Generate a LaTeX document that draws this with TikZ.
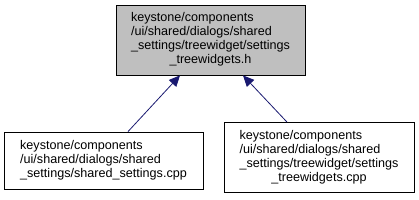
\documentclass[tikz,border=0pt]{standalone}
\usepackage{fontspec}
\setmainfont{Liberation Sans}
\usetikzlibrary{arrows.meta,calc}
\definecolor{edgeblue}{HTML}{191970}
\definecolor{boxgray}{HTML}{BFBFBF}
\begin{document}
\begin{tikzpicture}[x=1pt,y=-1pt,
  filebox/.style={draw=black,line width=0.8pt,rectangle,inner sep=0pt,anchor=center,
    font=\fontsize{12.6}{14}\selectfont},
  dep/.style={draw=edgeblue,line width=0.8pt,-{Triangle[length=11pt,width=10pt]}}]
\useasboundingbox (0,0) rectangle (419,200);
\node[filebox,fill=boxgray,minimum width=189pt,minimum height=70pt] (top) at (210.5,40)
  {\begin{tabular}{@{}l@{}}keystone/components\\/ui/shared/dialogs/shared\\\_settings/treewidget/settings\\\multicolumn{1}{@{}c@{}}{\_treewidgets.h}\end{tabular}};
\node[filebox,fill=white,minimum width=199pt,minimum height=57pt] (bl) at (103.5,160.5)
  {\begin{tabular}{@{}l@{}}keystone/components\\/ui/shared/dialogs/shared\\\_settings/shared\_settings.cpp\end{tabular}};
\node[filebox,fill=white,minimum width=190pt,minimum height=70pt] (br) at (319,157.5)
  {\begin{tabular}{@{}l@{}}keystone/components\\/ui/shared/dialogs/shared\\\_settings/treewidget/settings\\\multicolumn{1}{@{}c@{}}{\_treewidgets.cpp}\end{tabular}};
\draw[dep] ($(bl.north)+(24.5,0)$) -- ($(top.south)+(-30.5,0)$);
\draw[dep] ($(br.north)+(-32,0)$) -- ($(top.south)+(32.5,0)$);
\end{tikzpicture}
\end{document}
